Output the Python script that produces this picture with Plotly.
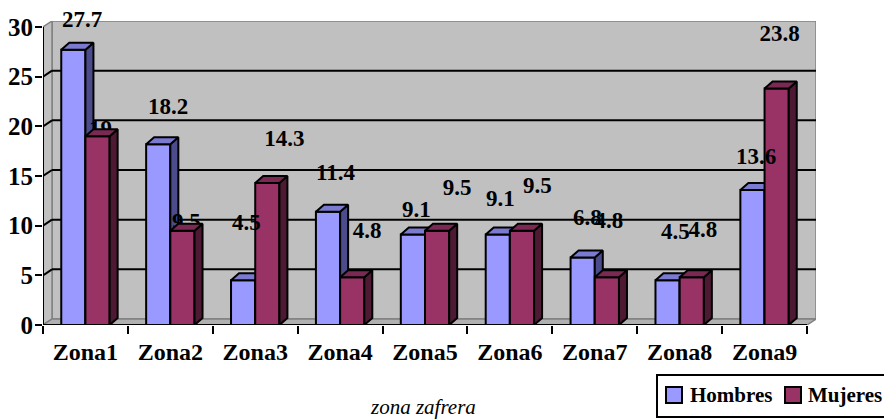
import plotly.graph_objects as go

# ---------------- data ----------------
categories = ["Zona1", "Zona2", "Zona3", "Zona4", "Zona5", "Zona6", "Zona7", "Zona8", "Zona9"]
hombres = [27.7, 18.2, 4.5, 11.4, 9.1, 9.1, 6.8, 4.5, 13.6]
mujeres = [19, 9.5, 14.3, 4.8, 9.5, 9.5, 4.8, 4.8, 23.8]
y_ticks = [0, 5, 10, 15, 20, 25, 30]
series_names = ["Hombres", "Mujeres"]
x_title = "zona zafrera"

# ---------------- styling / geometry ----------------
FONT = "Liberation Serif"
PAGE = 8                      # browser body margin (px)
FIG_W, FIG_H = 892 - PAGE, 419 - PAGE
ML, MR, MT, MB = 43 - PAGE, 76, 21 - PAGE, 94
WALL_DX, WALL_DY = 9, 6      # px depth of walls
BAR_DX, BAR_DY = 8, 7        # px depth of bars
front_cols = ["#9999FF", "#993366"]
side_cols = ["#4C4C8C", "#4D1933"]
top_cols = ["#7A7AD0", "#7A2952"]
BAR_W = 0.285
OFFSETS = [-0.285, 0.0]
# label offsets (px) relative to bar top-front centre
lab_off = [
    [(8.5, -30), (9.6, -38), (3.7, -58), (7, -39), (4, -25), (3, -36), (5, -40), (8, -49), (4, -33)],
    [(3, -6), (4, -7), (17, -43), (15, -45), (20, -41), (15.5, -43), (2, -55), (11, -46), (3, -53)],
]

N = len(categories)
PW = FIG_W - ML - MR
PH = FIG_H - MT - MB
YMAX = max(y_ticks)
ppx = (PW - WALL_DX) / N
ppy = (PH - WALL_DY) / YMAX
X0, X1 = -0.5, N - 0.5
wdx, wdy = WALL_DX / ppx, WALL_DY / ppy
bdx, bdy = BAR_DX / ppx, BAR_DY / ppy
XR, YR = X1 + wdx, YMAX + wdy
xpos = list(range(N))


def px(x):
    """screen pixel x -> paper fraction"""
    return (x - PAGE - ML) / PW


def py(y):
    """screen pixel y -> paper fraction"""
    return (FIG_H - MB - (y - PAGE)) / PH


def faces(vals, off):
    sx, sy, tx, ty = [], [], [], []
    for i, v in zip(xpos, vals):
        xl = i + off
        xr = xl + BAR_W
        sx += [xr, xr + bdx, xr + bdx, xr, xr, None]
        sy += [0, bdy, v + bdy, v, 0, None]
        tx += [xl, xr, xr + bdx, xl + bdx, xl, None]
        ty += [v, v, v + bdy, v + bdy, v, None]
    return sx, sy, tx, ty


fig = go.Figure()
series_vals = [hombres, mujeres]
axes_pairs = [("x", "y"), ("x2", "y2")]

for s, (vals, name) in enumerate(zip(series_vals, series_names)):
    xa, ya = axes_pairs[s]
    fig.add_trace(go.Bar(
        x=xpos, y=vals, name=name, offset=OFFSETS[s], width=BAR_W,
        marker=dict(color=front_cols[s], line=dict(color="black", width=2)),
        xaxis=xa, yaxis=ya, showlegend=False,
    ))
    sx, sy, tx, ty = faces(vals, OFFSETS[s])
    fig.add_trace(go.Scatter(x=sx, y=sy, mode="lines", fill="toself", fillcolor=side_cols[s],
                             line=dict(color="black", width=2), hoverinfo="skip",
                             xaxis=xa, yaxis=ya, showlegend=False))
    fig.add_trace(go.Scatter(x=tx, y=ty, mode="lines", fill="toself", fillcolor=top_cols[s],
                             line=dict(color="black", width=2), hoverinfo="skip",
                             xaxis=xa, yaxis=ya, showlegend=False))
    if s == 0:
        # Mujeres labels sit behind the Mujeres bars
        lx, ly, lt = [], [], []
        for i, v in zip(xpos, mujeres):
            ox, oy = lab_off[1][i]
            lx.append(i + OFFSETS[1] + BAR_W / 2 + ox / ppx)
            ly.append(v - oy / ppy)
            lt.append(f"<b>{v:g}</b>")
        fig.add_trace(go.Scatter(x=lx, y=ly, text=lt, mode="text", textposition="middle center",
                                 cliponaxis=False, textfont=dict(family=FONT, size=23, color="black"),
                                 hoverinfo="skip", showlegend=False, xaxis="x", yaxis="y"))

annotations = []
# Hombres labels sit in front of everything (anchored on the bar top, shifted in px)
for i, v in zip(xpos, hombres):
    ox, oy = lab_off[0][i]
    annotations.append(dict(xref="x", yref="y", x=i + OFFSETS[0] + BAR_W / 2, y=v,
                            xshift=ox, yshift=-oy, text=f"<b>{v:g}</b>", showarrow=False,
                            xanchor="center", yanchor="middle",
                            font=dict(family=FONT, size=23, color="black")))

shapes = []
grey = "#808080"
# back wall
shapes.append(dict(type="rect", xref="x", yref="y", x0=X0 + wdx, x1=X1 + wdx, y0=wdy, y1=YMAX + wdy,
                   fillcolor="#C0C0C0", line=dict(color=grey, width=1.5), layer="below"))
# left wall
shapes.append(dict(type="path", xref="x", yref="y",
                   path=f"M{X0},0 L{X0},{YMAX} L{X0 + wdx},{YMAX + wdy} L{X0 + wdx},{wdy} Z",
                   fillcolor="#C0C0C0", line=dict(color=grey, width=1.5), layer="below"))
# floor
shapes.append(dict(type="path", xref="x", yref="y",
                   path=f"M{X0},0 L{X1},0 L{X1 + wdx},{wdy} L{X0 + wdx},{wdy} Z",
                   fillcolor="#B0B0B0", line=dict(color=grey, width=1.5), layer="below"))
# gridlines on back wall and side wall
for t in y_ticks:
    if 0 < t < YMAX:
        shapes.append(dict(type="line", xref="x", yref="y", x0=X0 + wdx, x1=X1 + wdx, y0=t + wdy, y1=t + wdy,
                           line=dict(color="black", width=2), layer="below"))
        shapes.append(dict(type="line", xref="x", yref="y", x0=X0, x1=X0 + wdx, y0=t, y1=t + wdy,
                           line=dict(color="black", width=2), layer="below"))
# front axis lines
shapes.append(dict(type="line", xref="x", yref="y", x0=X0, x1=X0, y0=0, y1=YMAX,
                   line=dict(color="black", width=2), layer="below"))
shapes.append(dict(type="line", xref="x", yref="y", x0=X0, x1=X1, y0=0, y1=0,
                   line=dict(color="black", width=2), layer="below"))

# manual legend
shapes.append(dict(type="rect", xref="paper", yref="paper", x0=px(657), x1=px(891), y0=py(417), y1=py(375),
                   fillcolor="white", line=dict(color="black", width=2)))
leg_x = [666, 785]
leg_tx = [688, 806]
for s, name in enumerate(series_names):
    shapes.append(dict(type="rect", xref="paper", yref="paper", x0=px(leg_x[s]), x1=px(leg_x[s] + 16),
                       y0=py(403), y1=py(387), fillcolor=front_cols[s], line=dict(color="black", width=2)))
    annotations.append(dict(xref="paper", yref="paper", x=px(leg_tx[s]), y=py(395), xanchor="left",
                            yanchor="middle", showarrow=False, text=f"<b>{name}</b>",
                            font=dict(family=FONT, size=21, color="black")))
annotations.append(dict(xref="paper", yref="paper", x=px(423), y=py(407), xanchor="center", yanchor="middle",
                        showarrow=False, text=f"<i>{x_title}</i>",
                        font=dict(family=FONT, size=21, color="black")))

fig.update_layout(
    width=FIG_W, height=FIG_H,
    margin=dict(l=ML, r=MR, t=MT, b=MB, autoexpand=False),
    paper_bgcolor="white", plot_bgcolor="white",
    barmode="overlay", showlegend=False,
    shapes=shapes, annotations=annotations,
    xaxis=dict(range=[X0, XR], tickmode="array", tickvals=xpos,
               ticktext=[f"<b>{c}</b>" for c in categories], ticks="",
               showgrid=False, zeroline=False, showline=False, ticklabelstandoff=10, automargin=False,
               tickfont=dict(family=FONT, size=24, color="black"),
               minor=dict(tickmode="array", tickvals=[i - 0.5 for i in range(N + 1)], ticks="outside",
                          ticklen=8, tickwidth=2, tickcolor="black", showgrid=False)),
    yaxis=dict(range=[0, YR], tickmode="array", tickvals=y_ticks,
               ticktext=[f"<b>{t}</b>" for t in y_ticks], ticks="outside", ticklen=7, tickwidth=2,
               tickcolor="black", showgrid=False, zeroline=False, showline=False, automargin=False,
               ticklabelstandoff=-3,
               tickfont=dict(family=FONT, size=25, color="black")),
    xaxis2=dict(range=[X0, XR], overlaying="x", visible=False, automargin=False),
    yaxis2=dict(range=[0, YR], overlaying="y", visible=False, automargin=False),
)

fig.write_html("out.html")
